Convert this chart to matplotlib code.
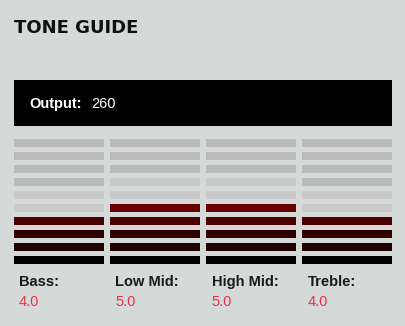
import matplotlib
matplotlib.use('Agg')
import matplotlib.pyplot as plt
from matplotlib.patches import Rectangle

# 数据
bands = ['Bass:', 'Low Mid:', 'High Mid:', 'Treble:']
values = [4.0, 5.0, 5.0, 4.0]
output_value = 260
levels = list(range(1, 11))
lit_colors = ['#000000', '#1e0000', '#300000', '#4d0000', '#660000',
              '#7d0000', '#940000', '#ab0000', '#c20000', '#d90000']

BG = '#d5d9d8'
DIM_NEAR = '#c8c9c8'
DIM_FAR = '#bababa'
W, H = 405, 326


def fx(px):
    return px / W


def fy(py):
    return 1 - py / H


fig = plt.figure(figsize=(W / 100, H / 100), dpi=100, facecolor=BG)

# 标题（没有窄体字体，缩小字号以接近原宽度）
fig.text(fx(14), fy(33), 'TONE GUIDE', fontsize=13, fontweight='bold',
         family='DejaVu Sans', color='#111111', va='baseline', ha='left')

# Output 黑色条
fig.patches.append(Rectangle((fx(14), fy(126)), fx(392) - fx(14), fy(80) - fy(126),
                             transform=fig.transFigure, facecolor='black',
                             edgecolor='none', zorder=0))
fig.text(fx(29), fy(108), 'Output:', fontsize=10.5, fontweight='bold',
         family='Liberation Sans', color='white', va='baseline')
fig.text(fx(91), fy(108), str(output_value), fontsize=10.5,
         family='Liberation Sans', color='white', va='baseline')

# 电平条
ax = fig.add_axes([fx(14), fy(264), fx(392) - fx(14), fy(139) - fy(264)])
ax.patch.set_alpha(0)
bar_w = 90 / 96
bar_h = 8 / 13
x = list(range(len(bands)))
for lv in levels:
    cols = []
    for v in values:
        if lv <= v:
            cols.append(lit_colors[lv - 1])
        elif lv <= v + 2:
            cols.append(DIM_NEAR)
        else:
            cols.append(DIM_FAR)
    ax.bar(x, bar_h, bottom=lv - bar_h / 2, width=bar_w, color=cols, linewidth=0)
ax.set_xlim(-bar_w / 2, len(bands) - 1 + bar_w / 2)
ax.set_ylim(1 - bar_h / 2, 10 + bar_h / 2)
ax.axis('off')

# 标签和数值
for i, (b, v) in enumerate(zip(bands, values)):
    left = 19 + 96.3 * i
    fig.text(fx(left), fy(286), b, fontsize=10.5, fontweight='bold',
             family='Liberation Sans', color='#1a1a1a', va='baseline')
    fig.text(fx(left), fy(306), f'{v:.1f}', fontsize=10.5,
             family='Liberation Sans', color='#e8334a', va='baseline')

plt.savefig('out.png', dpi=100, facecolor=BG)
